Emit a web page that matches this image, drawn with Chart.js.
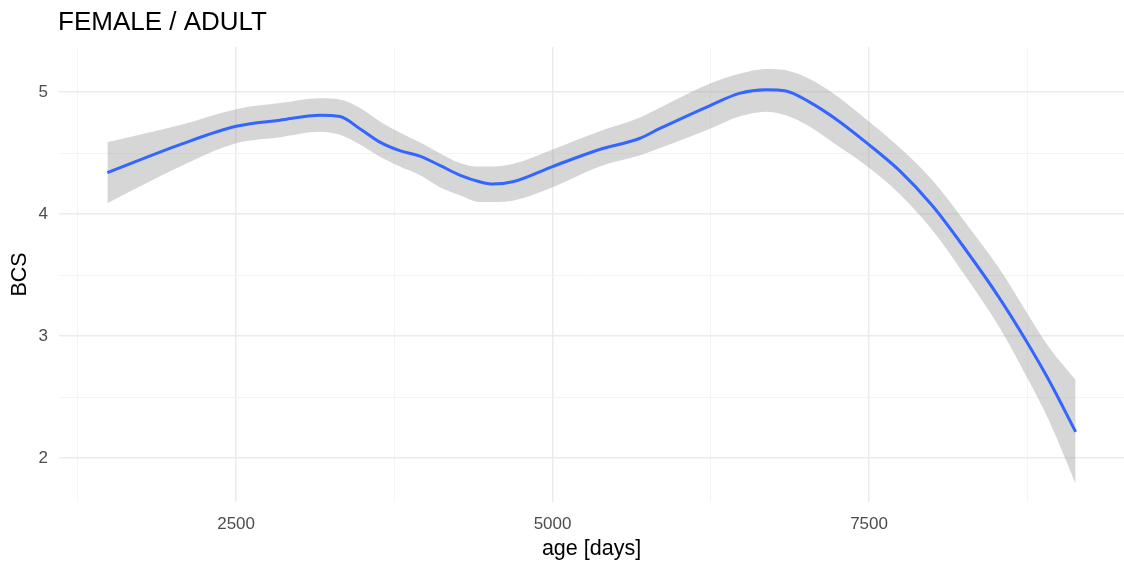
<!DOCTYPE html>
<html>
<head>
<meta charset="utf-8">
<script src="https://cdn.jsdelivr.net/npm/chart.js@4.4.0/dist/chart.umd.min.js"></script>
<style>
  body { margin: 0; background: #fff; }
  #wrap { width: 1124px; height: 564px; }
</style>
</head>
<body>
<div id="wrap"><canvas id="smooth" width="1124" height="564"></canvas></div>
<script>
// loess fit of BCS vs age with its confidence band
const ageDays  = [1483, 2058, 2500, 2847, 3162, 3320, 3478, 3636, 3793, 3951, 4109, 4267, 4424, 4527, 4685, 5000, 5371, 5686, 5844, 6244, 6475, 6685, 6843, 7027, 7237, 7474, 7737, 7999, 8262, 8525, 8748, 8920, 9132];
const bcsFit   = [4.34, 4.57, 4.72, 4.77, 4.81, 4.80, 4.70, 4.59, 4.52, 4.475, 4.40, 4.32, 4.265, 4.246, 4.265, 4.39, 4.53, 4.62, 4.70, 4.89, 4.99, 5.02, 5.01, 4.92, 4.78, 4.59, 4.36, 4.07, 3.71, 3.32, 2.95, 2.64, 2.215];
const bcsUpper = [4.59, 4.73, 4.86, 4.91, 4.95, 4.94, 4.87, 4.76, 4.67, 4.59, 4.50, 4.42, 4.39, 4.39, 4.41, 4.53, 4.68, 4.79, 4.87, 5.07, 5.15, 5.19, 5.18, 5.11, 4.975, 4.78, 4.55, 4.28, 3.93, 3.56, 3.19, 2.91, 2.64];
const bcsLower = [4.09, 4.39, 4.58, 4.63, 4.675, 4.65, 4.57, 4.47, 4.39, 4.32, 4.22, 4.155, 4.10, 4.10, 4.11, 4.22, 4.39, 4.48, 4.54, 4.70, 4.80, 4.84, 4.81, 4.72, 4.57, 4.40, 4.17, 3.87, 3.49, 3.08, 2.66, 2.31, 1.79];

const xTicks = [1250, 2500, 3750, 5000, 6250, 7500, 8750];
const xLabels = [2500, 5000, 7500];
const yTicks = [2, 2.5, 3, 3.5, 4, 4.5, 5];
const yLabels = [2, 3, 4, 5];

const pts = arr => ageDays.map((d, i) => ({x: d, y: arr[i]}));

const titlePlugin = {
  id: 'ggTitle',
  afterDraw(chart) {
    const c = chart.ctx;
    c.save();
    c.fillStyle = '#000';
    c.font = '26px "Liberation Sans", Arial, sans-serif';
    c.textBaseline = 'middle';
    c.fillText('FEMALE / ADULT', 58, 23);
    c.restore();
  }
};

const ctx = document.getElementById('smooth').getContext('2d');
new Chart(ctx, {
  type: 'line',
  data: {
    datasets: [
      {
        data: pts(bcsFit),
        borderColor: '#3366FF',
        borderWidth: 3,
        pointRadius: 0,
        fill: false,
        cubicInterpolationMode: 'monotone'
      },
      {
        data: pts(bcsUpper),
        borderWidth: 0,
        borderColor: 'rgba(0,0,0,0)',
        backgroundColor: 'rgba(153,153,153,0.4)',
        pointRadius: 0,
        fill: '+1',
        cubicInterpolationMode: 'monotone'
      },
      {
        data: pts(bcsLower),
        borderWidth: 0,
        borderColor: 'rgba(0,0,0,0)',
        pointRadius: 0,
        fill: false,
        cubicInterpolationMode: 'monotone'
      }
    ]
  },
  options: {
    responsive: false,
    animation: false,
    layout: { padding: { top: 47, right: 0, left: 0, bottom: 0 } },
    plugins: {
      legend: { display: false },
      tooltip: { enabled: false }
    },
    scales: {
      x: {
        type: 'linear',
        min: 1101,
        max: 9514,
        afterBuildTicks: s => { s.ticks = xTicks.map(v => ({value: v})); },
        afterFit: s => { s.height = 62; },
        border: { display: false },
        grid: {
          drawTicks: false,
          color: c => xLabels.includes(c.tick.value) ? '#ebebeb' : '#f3f3f3',
          lineWidth: c => xLabels.includes(c.tick.value) ? 1.5 : 0.9
        },
        ticks: {
          padding: 12,
          maxRotation: 0,
          autoSkip: false,
          color: '#4d4d4d',
          font: { family: '"Liberation Sans", Arial, sans-serif', size: 17 },
          callback: v => xLabels.includes(v) ? String(v) : ''
        },
        title: {
          display: true,
          text: 'age [days]',
          color: '#000',
          font: { family: '"Liberation Sans", Arial, sans-serif', size: 21.5 },
          padding: { top: 0, bottom: 2 }
        }
      },
      y: {
        min: 1.64,
        max: 5.37,
        afterBuildTicks: s => { s.ticks = yTicks.map(v => ({value: v})); },
        afterFit: s => { s.width = 59; },
        border: { display: false },
        grid: {
          drawTicks: false,
          color: c => yLabels.includes(c.tick.value) ? '#ebebeb' : '#f3f3f3',
          lineWidth: c => yLabels.includes(c.tick.value) ? 1.5 : 0.9
        },
        ticks: {
          padding: 11,
          autoSkip: false,
          color: '#4d4d4d',
          font: { family: '"Liberation Sans", Arial, sans-serif', size: 17 },
          callback: v => yLabels.includes(v) ? String(v) : ''
        },
        title: {
          display: true,
          text: 'BCS',
          color: '#000',
          font: { family: '"Liberation Sans", Arial, sans-serif', size: 21.5 },
          padding: { top: 7, bottom: 0 }
        }
      }
    }
  },
  plugins: [titlePlugin]
});
</script>
</body>
</html>
